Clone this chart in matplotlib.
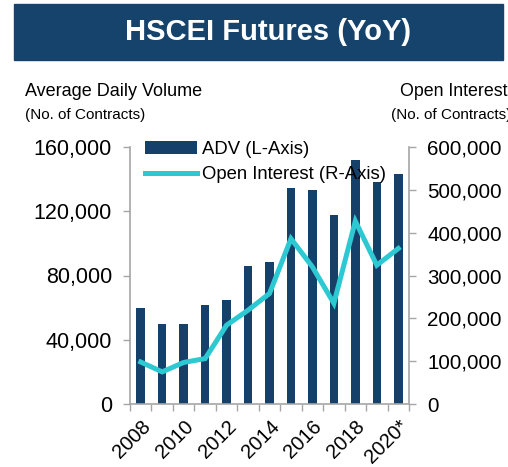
import matplotlib
matplotlib.use("Agg")
import matplotlib.pyplot as plt
from matplotlib.ticker import FuncFormatter, FixedLocator
from matplotlib.patches import Rectangle

plt.rcParams['font.family'] = ['Liberation Sans', 'DejaVu Sans']

years = ["2008", "2009", "2010", "2011", "2012", "2013", "2014",
         "2015", "2016", "2017", "2018", "2019", "2020*"]
adv = [60000, 50000, 50000, 61500, 65000, 86000, 88500,
       134500, 133500, 117500, 152000, 138500, 143500]
open_interest = [98000, 75000, 97000, 106000, 184000, 219000, 258000,
                 386000, 320000, 235000, 427000, 324000, 363000]

BAR = "#15406A"
LINE = "#2CC9D3"
SPINE = "#A6A6A6"

fig = plt.figure(figsize=(5.08, 4.67), dpi=100)

# Title banner
fig.patches.append(Rectangle((14/508, 1-60/467), (503-14)/508, 56/467,
                             transform=fig.transFigure, color="#15436B", zorder=0))
fig.text(268/508, 1-32/467, "HSCEI Futures (YoY)", color="white",
         fontsize=21, fontweight="bold", ha="center", va="center")

fig.text(25/508, 1-92/467, "Average Daily Volume", fontsize=13, ha="left", va="center")
fig.text(25/508, 1-115/467, "(No. of Contracts)", fontsize=11, ha="left", va="center")
fig.text(400/508, 1-92/467, "Open Interest", fontsize=12.8, ha="left", va="center")
fig.text(391/508, 1-115/467, "(No. of Contracts)", fontsize=11, ha="left", va="center")

ax = fig.add_axes([130/508, 1-404/467, (409-130)/508, (404-147)/467])
ax2 = ax.twinx()

x = list(range(len(years)))
bars = ax.bar(x, adv, width=0.4, color=BAR, zorder=2, label="ADV (L-Axis)")
line, = ax2.plot(x, open_interest, color=LINE, lw=3.6, solid_joinstyle="miter",
                 label="Open Interest (R-Axis)", zorder=3)

ax.set_xlim(-0.5, len(years) - 0.5)
ax.set_ylim(0, 160000)
ax2.set_ylim(0, 600000)
ax.set_yticks(range(0, 160001, 40000))
ax2.set_yticks(range(0, 600001, 100000))
fmt = FuncFormatter(lambda v, p: f"{int(v):,}")
ax.yaxis.set_major_formatter(fmt)
ax2.yaxis.set_major_formatter(fmt)

ax.set_xticks(x[::2])
ax.set_xticklabels(years[::2], rotation=45, ha="right", rotation_mode="anchor")
ax.xaxis.set_minor_locator(FixedLocator([i - 0.5 for i in range(len(years) + 1)]))
ax.tick_params(axis="x", which="major", length=0, labelsize=14.5, pad=9)
ax.tick_params(axis="x", which="minor", length=5, color=SPINE, width=1)
ax.tick_params(axis="y", length=5, color=SPINE, width=1, labelsize=15.5, pad=8)
ax2.tick_params(axis="y", length=5, color=SPINE, width=1, labelsize=14.8, pad=8)

for a in (ax, ax2):
    a.spines["top"].set_visible(False)
    for s in ("left", "right", "bottom"):
        a.spines[s].set_color(SPINE)
        a.spines[s].set_linewidth(1.2)
ax.spines["right"].set_visible(False)
ax2.spines["left"].set_visible(False)
ax2.spines["bottom"].set_visible(False)

leg = ax2.legend([bars, line], ["ADV (L-Axis)", "Open Interest (R-Axis)"],
                 loc="upper left", bbox_to_anchor=(0.02, 1.06), frameon=False,
                 fontsize=13.3, handlelength=2.8, handletextpad=0.3,
                 labelspacing=0.45, borderpad=0)

fig.savefig("out.png", dpi=100)
